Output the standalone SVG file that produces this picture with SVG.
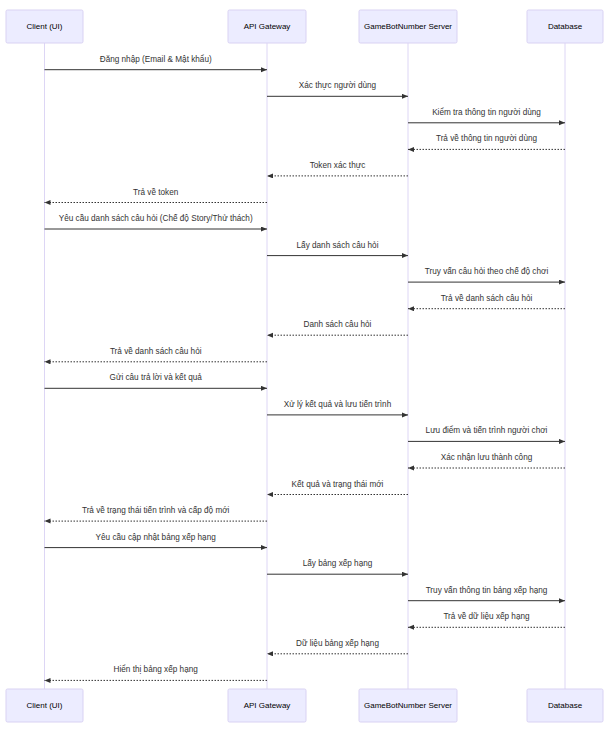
<svg xmlns="http://www.w3.org/2000/svg" width="609" height="733" viewBox="0 0 609 733">
<defs>
<style>
.actor{fill:#ECECFF;stroke:#D9D2F3;stroke-width:1}
.atext{font-family:"Liberation Sans",Arial,sans-serif;font-size:8px;fill:#000;text-anchor:middle;dominant-baseline:central}
.life{stroke:#DDD6F5;stroke-width:1}
.msg{stroke:#333;stroke-width:1;fill:none}
.dot{stroke:#333;stroke-width:1;fill:none;stroke-dasharray:1.5,1.5}
.mtext{font-family:"Liberation Sans",Arial,sans-serif;font-size:8.2px;fill:#333;text-anchor:middle}
</style>
<marker id="arr" markerUnits="userSpaceOnUse" markerWidth="7" markerHeight="6" refX="6" refY="2.5" orient="auto">
<path d="M0,0 L6,2.5 L0,5 z" fill="#333"/>
</marker>
</defs>
<rect width="609" height="733" fill="#fff"/>
<g id="lifelines">
<line class="life" x1="44.5" y1="43" x2="44.5" y2="689"/>
<line class="life" x1="267" y1="43" x2="267" y2="689"/>
<line class="life" x1="408" y1="43" x2="408" y2="689"/>
<line class="life" x1="565" y1="43" x2="565" y2="689"/>
</g>
<g id="client-top"><rect class="actor" x="6" y="10" width="77" height="33" rx="1.5"/><text class="atext" x="44.5" y="26.5">Client (UI)</text></g>
<g id="gateway-top"><rect class="actor" x="228" y="10" width="78" height="33" rx="1.5"/><text class="atext" x="267" y="26.5">API Gateway</text></g>
<g id="server-top"><rect class="actor" x="359" y="10" width="98" height="33" rx="1.5"/><text class="atext" x="408" y="26.5">GameBotNumber Server</text></g>
<g id="db-top"><rect class="actor" x="527" y="10" width="76" height="33" rx="1.5"/><text class="atext" x="565" y="26.5">Database</text></g>
<g id="client-bottom"><rect class="actor" x="6" y="689" width="77" height="33" rx="1.5"/><text class="atext" x="44.5" y="705.5">Client (UI)</text></g>
<g id="gateway-bottom"><rect class="actor" x="228" y="689" width="78" height="33" rx="1.5"/><text class="atext" x="267" y="705.5">API Gateway</text></g>
<g id="server-bottom"><rect class="actor" x="359" y="689" width="98" height="33" rx="1.5"/><text class="atext" x="408" y="705.5">GameBotNumber Server</text></g>
<g id="db-bottom"><rect class="actor" x="527" y="689" width="76" height="33" rx="1.5"/><text class="atext" x="565" y="705.5">Database</text></g>
<g id="connectors">
<line class="msg" x1="44.5" y1="69.7" x2="267" y2="69.7" marker-end="url(#arr)"/>
<text class="mtext" x="155.7" y="61.7">Đăng nhập (Email &amp; Mật khẩu)</text>
<line class="msg" x1="267" y1="96.3" x2="408" y2="96.3" marker-end="url(#arr)"/>
<text class="mtext" x="337.5" y="88.3">Xác thực người dùng</text>
<line class="msg" x1="408" y1="122.8" x2="565" y2="122.8" marker-end="url(#arr)"/>
<text class="mtext" x="486.5" y="114.8">Kiểm tra thông tin người dùng</text>
<line class="dot" x1="565" y1="149.4" x2="408" y2="149.4" marker-end="url(#arr)"/>
<text class="mtext" x="486.5" y="141.4">Trả về thông tin người dùng</text>
<line class="dot" x1="408" y1="175.9" x2="267" y2="175.9" marker-end="url(#arr)"/>
<text class="mtext" x="337.5" y="167.9">Token xác thực</text>
<line class="dot" x1="267" y1="202.5" x2="44.5" y2="202.5" marker-end="url(#arr)"/>
<text class="mtext" x="155.7" y="194.5">Trả về token</text>
<line class="msg" x1="44.5" y1="229" x2="267" y2="229" marker-end="url(#arr)"/>
<text class="mtext" x="155.7" y="221">Yêu cầu danh sách câu hỏi (Chế độ Story/Thử thách)</text>
<line class="msg" x1="267" y1="255.6" x2="408" y2="255.6" marker-end="url(#arr)"/>
<text class="mtext" x="337.5" y="247.6">Lấy danh sách câu hỏi</text>
<line class="msg" x1="408" y1="282.1" x2="565" y2="282.1" marker-end="url(#arr)"/>
<text class="mtext" x="486.5" y="274.1">Truy vấn câu hỏi theo chế độ chơi</text>
<line class="dot" x1="565" y1="308.7" x2="408" y2="308.7" marker-end="url(#arr)"/>
<text class="mtext" x="486.5" y="300.7">Trả về danh sách câu hỏi</text>
<line class="dot" x1="408" y1="335.2" x2="267" y2="335.2" marker-end="url(#arr)"/>
<text class="mtext" x="337.5" y="327.2">Danh sách câu hỏi</text>
<line class="dot" x1="267" y1="361.8" x2="44.5" y2="361.8" marker-end="url(#arr)"/>
<text class="mtext" x="155.7" y="353.8">Trả về danh sách câu hỏi</text>
<line class="msg" x1="44.5" y1="388.3" x2="267" y2="388.3" marker-end="url(#arr)"/>
<text class="mtext" x="155.7" y="380.3">Gửi câu trả lời và kết quả</text>
<line class="msg" x1="267" y1="414.9" x2="408" y2="414.9" marker-end="url(#arr)"/>
<text class="mtext" x="337.5" y="406.9">Xử lý kết quả và lưu tiến trình</text>
<line class="msg" x1="408" y1="441.4" x2="565" y2="441.4" marker-end="url(#arr)"/>
<text class="mtext" x="486.5" y="433.4">Lưu điểm và tiến trình người chơi</text>
<line class="dot" x1="565" y1="468" x2="408" y2="468" marker-end="url(#arr)"/>
<text class="mtext" x="486.5" y="460">Xác nhận lưu thành công</text>
<line class="dot" x1="408" y1="494.5" x2="267" y2="494.5" marker-end="url(#arr)"/>
<text class="mtext" x="337.5" y="486.5">Kết quả và trạng thái mới</text>
<line class="dot" x1="267" y1="521.1" x2="44.5" y2="521.1" marker-end="url(#arr)"/>
<text class="mtext" x="155.7" y="513.1">Trả về trạng thái tiến trình và cấp độ mới</text>
<line class="msg" x1="44.5" y1="547.6" x2="267" y2="547.6" marker-end="url(#arr)"/>
<text class="mtext" x="155.7" y="539.6">Yêu cầu cập nhật bảng xếp hạng</text>
<line class="msg" x1="267" y1="574.2" x2="408" y2="574.2" marker-end="url(#arr)"/>
<text class="mtext" x="337.5" y="566.2">Lấy bảng xếp hạng</text>
<line class="msg" x1="408" y1="600.7" x2="565" y2="600.7" marker-end="url(#arr)"/>
<text class="mtext" x="486.5" y="592.7">Truy vấn thông tin bảng xếp hạng</text>
<line class="dot" x1="565" y1="627.3" x2="408" y2="627.3" marker-end="url(#arr)"/>
<text class="mtext" x="486.5" y="619.3">Trả về dữ liệu xếp hạng</text>
<line class="dot" x1="408" y1="653.8" x2="267" y2="653.8" marker-end="url(#arr)"/>
<text class="mtext" x="337.5" y="645.8">Dữ liệu bảng xếp hạng</text>
<line class="dot" x1="267" y1="680.4" x2="44.5" y2="680.4" marker-end="url(#arr)"/>
<text class="mtext" x="155.7" y="672.4">Hiển thị bảng xếp hạng</text>
</g>
</svg>
